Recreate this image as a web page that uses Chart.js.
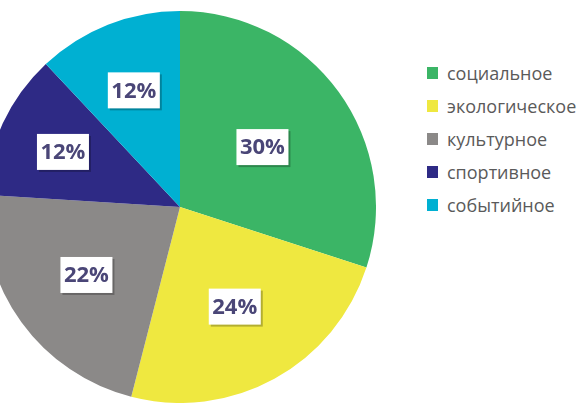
<!DOCTYPE html>
<html>
<head>
<meta charset="utf-8">
<script src="https://cdn.jsdelivr.net/npm/chart.js@4.4.1/dist/chart.umd.min.js"></script>
<style>
    html, body { margin: 0; padding: 0; background: #fff; }
    body { width: 584px; height: 404px; overflow: hidden; position: relative; font-family: 'Open Sans', sans-serif; }
    #wrap { position: absolute; left: -16px; top: 11px; width: 392px; height: 392px; }
    #legend { position: absolute; left: 427px; top: 56px; margin: 0; padding: 0; list-style: none; }
    #legend li { height: 33px; display: flex; align-items: center; font-size: 18px; color: #5a5a5a; }
    #legend span.box { width: 11px; height: 12px; margin-right: 9px; display: inline-block; }
</style>
</head>
<body>
<div id="wrap"><canvas id="pieChart"></canvas></div>
<ul id="legend"></ul>
<script>
// Данные диаграммы
const categories = ['социальное', 'экологическое', 'культурное', 'спортивное', 'событийное'];
const values = [30, 24, 22, 12, 12];
const colors = ['#3bb566', '#efe840', '#8b8988', '#2e2a85', '#00b0d2'];

document.addEventListener('DOMContentLoaded', function() {
    // насколько далеко от центра ставить подпись (доля радиуса)
    const labelDist = [0.52, 0.58, 0.59, 0.66, 0.64];

    // Подписи процентов в белых рамках
    const boxLabels = {
        id: 'boxLabels',
        afterDatasetsDraw(chart) {
            const ctx = chart.ctx;
            const meta = chart.getDatasetMeta(0);
            ctx.save();
            ctx.font = 'bold 22px "Open Sans", sans-serif';
            ctx.textAlign = 'center';
            ctx.textBaseline = 'middle';
            meta.data.forEach((arc, i) => {
                const p = arc.getProps(['x', 'y', 'startAngle', 'endAngle', 'outerRadius'], true);
                const mid = (p.startAngle + p.endAngle) / 2;
                const r = p.outerRadius * labelDist[i];
                const x = p.x + Math.cos(mid) * r;
                const y = p.y + Math.sin(mid) * r;
                const w = 52, h = 36;
                ctx.fillStyle = 'rgba(0,0,0,0.25)';
                ctx.fillRect(x - w / 2 + 2, y - h / 2 + 2, w, h);
                ctx.fillStyle = '#ffffff';
                ctx.fillRect(x - w / 2, y - h / 2, w, h);
                ctx.fillStyle = '#4a4677';
                ctx.fillText(values[i] + '%', x, y + 1);
            });
            ctx.restore();
        }
    };

    const ctx = document.getElementById('pieChart').getContext('2d');
    new Chart(ctx, {
        type: 'pie',
        data: {
            labels: categories,
            datasets: [{
                data: values,
                backgroundColor: colors,
                borderWidth: 0
            }]
        },
        options: {
            responsive: true,
            maintainAspectRatio: false,
            animation: false,
            layout: { padding: 0 },
            plugins: {
                legend: { display: false },
                tooltip: { enabled: false }
            }
        },
        plugins: [boxLabels]
    });

    // Легенда справа
    const legend = document.getElementById('legend');
    categories.forEach((name, i) => {
        const li = document.createElement('li');
        li.innerHTML = '<span class="box" style="background:' + colors[i] + '"></span>' + name;
        legend.appendChild(li);
    });
});
</script>
</body>
</html>
